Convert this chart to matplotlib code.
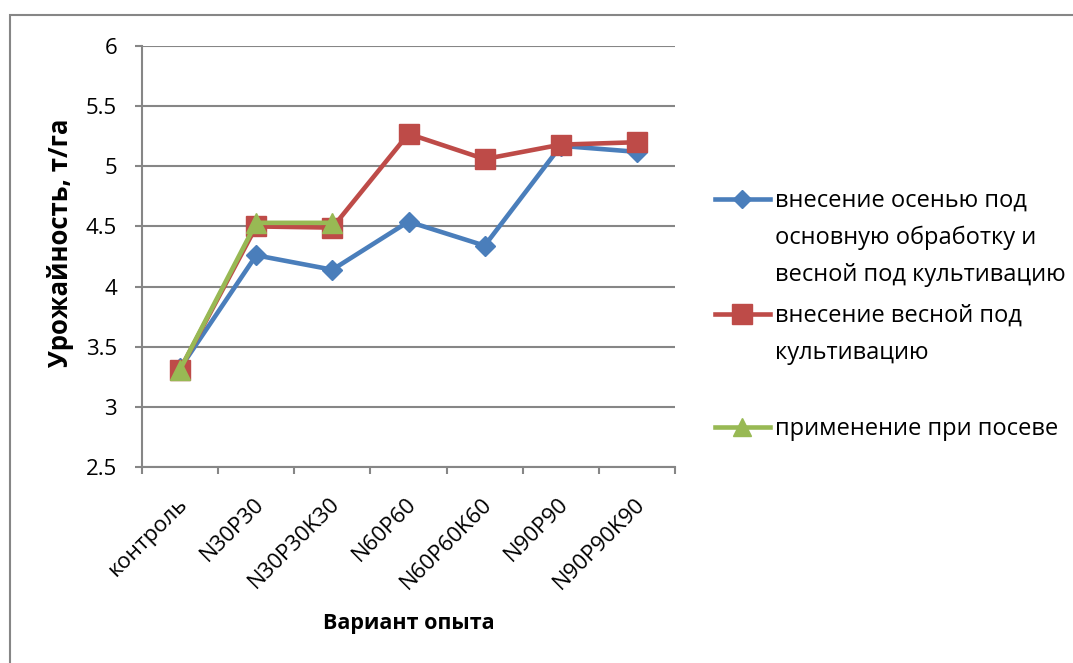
import matplotlib
matplotlib.use("Agg")
import matplotlib.pyplot as plt
from matplotlib.lines import Line2D
from matplotlib.patches import Rectangle
from matplotlib.transforms import ScaledTranslation
import numpy as np

plt.rcParams['font.family'] = ['Open Sans', 'DejaVu Sans']

# data
categories = ['контроль', 'N30P30', 'N30P30K30', 'N60P60', 'N60P60K60', 'N90P90', 'N90P90K90']
autumn_spring = [3.32, 4.26, 4.14, 4.54, 4.34, 5.17, 5.12]
spring_only = [3.31, 4.50, 4.49, 5.27, 5.06, 5.18, 5.20]
at_sowing = [3.31, 4.53, 4.53]

labels = ['внесение осенью под\nосновную обработку и\nвесной под культивацию',
          'внесение весной под\nкультивацию',
          'применение при посеве']
colors = ['#4A7EBB', '#BE4B48', '#98B954']
markers = ['D', 's', '^']
msizes = [10, 15, 14]

W, H = 1073, 663
fig = plt.figure(figsize=(W / 100, H / 100), dpi=100)
ax = fig.add_axes([142 / W, 1 - 467 / H, (675 - 142) / W, (467 - 46) / H])

x = np.arange(len(categories))
series = [autumn_spring, spring_only, at_sowing]
for vals, c, m, ms in zip(series, colors, markers, msizes):
    ax.plot(x[:len(vals)], vals, color=c, lw=3.3, marker=m, ms=ms,
            markeredgecolor=c, zorder=3)

grid_col = '#868686'
ax.set_xlim(-0.5, len(categories) - 0.5)
ax.set_ylim(2.5, 6)
ax.set_yticks(np.arange(2.5, 6.01, 0.5))
ax.set_yticklabels(['2.5', '3', '3.5', '4', '4.5', '5', '5.5', '6'])
ax.yaxis.grid(True, color=grid_col, lw=1.5)
ax.set_axisbelow(True)

ax.set_xticks(x)
ax.set_xticklabels(categories, rotation=45, ha='right', va='top', rotation_mode='anchor')
ax.tick_params(axis='x', length=0, labelsize=16, pad=19)
shift = ScaledTranslation(-3 / 100, 0, fig.dpi_scale_trans)
for lbl in ax.get_xticklabels():
    lbl.set_transform(lbl.get_transform() + shift)
ax.set_xticks(np.arange(-0.5, len(categories), 1), minor=True)
ax.tick_params(axis='x', which='minor', length=5, width=1.5, color=grid_col, direction='out')
ax.tick_params(axis='y', length=5, width=1.5, color=grid_col, labelsize=16, pad=13)

for s in ['top', 'right']:
    ax.spines[s].set_visible(False)
for s in ['left', 'bottom']:
    ax.spines[s].set_color(grid_col)
    ax.spines[s].set_linewidth(1.5)

ax.set_ylabel('Урожайность, т/га', fontsize=18.5, fontweight='bold')
ax.yaxis.set_label_coords((61 - 142) / 533, (467 - 243) / 421)
ax.yaxis.label.set_va('center')
ax.set_xlabel('Вариант опыта', fontsize=15.5, fontweight='bold')
ax.xaxis.set_label_coords((409 - 142) / 533, (467 - 624) / 421)
ax.xaxis.label.set_va('center')

# legend drawn by hand so the handle sits on the first line of the label
leg_y = [199, 314, 427]
line_step = 37
for lab, c, m, ms, y in zip(labels, colors, markers, msizes, leg_y):
    yf = 1 - y / H
    fig.add_artist(Line2D([715 / W, 770 / W], [yf, yf], color=c, lw=3.3,
                          transform=fig.transFigure))
    fig.add_artist(Line2D([742 / W], [yf], color=c, marker=m, ms=ms * 0.95,
                          markeredgecolor=c, transform=fig.transFigure))
    for i, part in enumerate(lab.split('\n')):
        fig.text(775 / W, 1 - (y + 2 + i * line_step) / H, part, fontsize=17,
                 va='center', ha='left')

# outer chart border
fig.add_artist(Rectangle((10 / W, -0.1), 1.2, 1 - 15 / H + 0.1, fill=False,
                         edgecolor=grid_col, lw=1.5, transform=fig.transFigure))

fig.savefig('out.png', dpi=100)
